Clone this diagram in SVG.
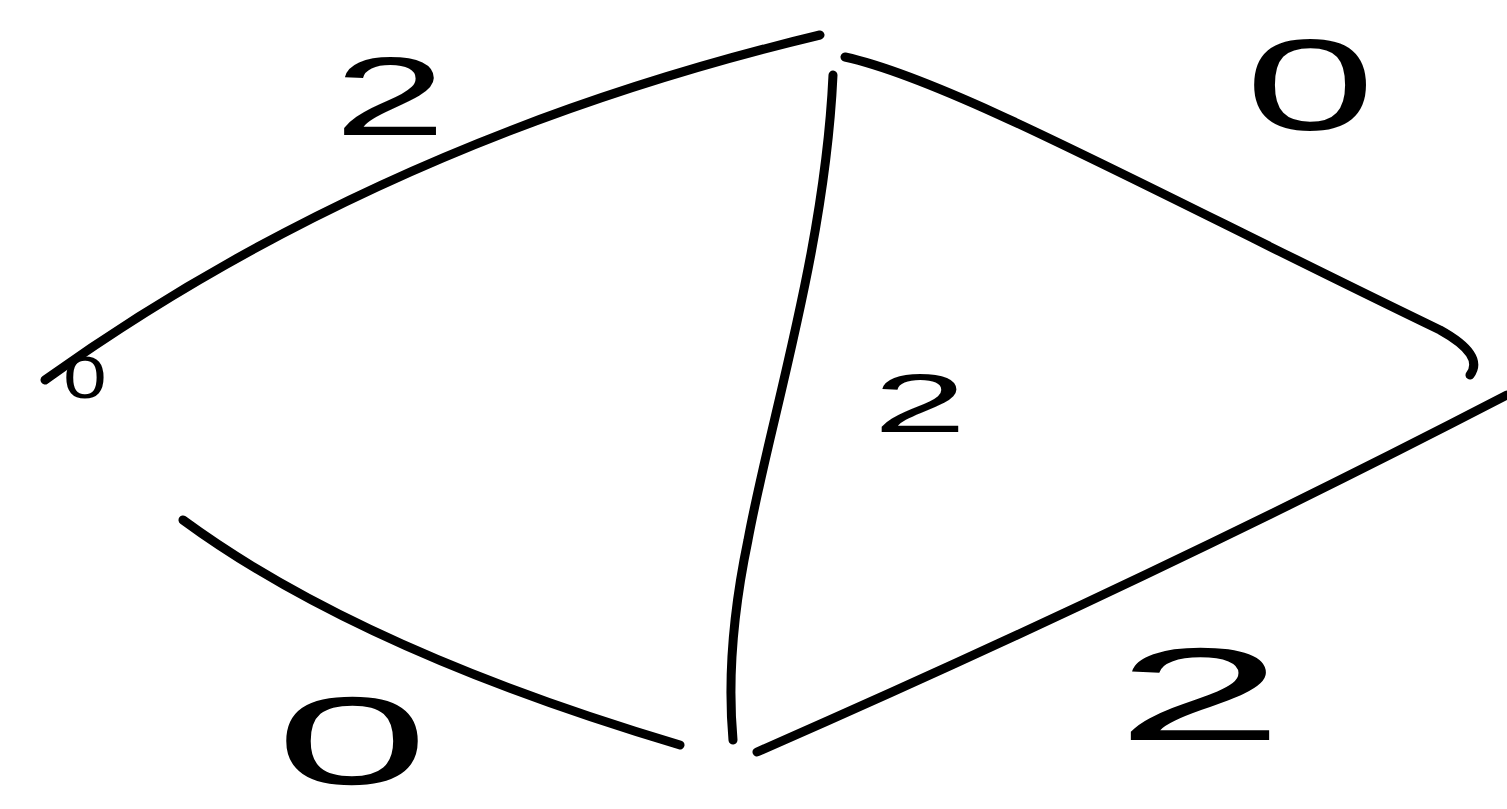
<svg xmlns="http://www.w3.org/2000/svg" width="1507" height="809" viewBox="0 0 1507 809">
<style>
.e{fill:none;stroke:#000;stroke-width:9;stroke-linecap:round;stroke-linejoin:round}
.t{font-family:"Liberation Sans",Arial,sans-serif;fill:#000;text-anchor:middle}
</style>
<rect width="1507" height="809" fill="#fff"/>
<g id="edges">
<path class="e" d="M45,380 Q380,140 820,35"/>
<path class="e" d="M845,57 C950,80 1150,190 1440,330 Q1485,355 1470,375"/>
<path class="e" d="M833,75 C825,250 770,420 748,540 Q725,650 733,740"/>
<path class="e" d="M757,752 Q1150,580 1507,395"/>
<path class="e" d="M183,520 Q360,650 680,745"/>
</g>
<g id="label-top-left"><text class="t" font-size="112" transform="translate(390,135) scale(1.8,1)">2</text></g>
<g id="label-top-right"><text class="t" font-size="130" transform="translate(1310,130) scale(1.8,1)">0</text></g>
<g id="label-middle"><text class="t" font-size="84" transform="translate(920,432) scale(2,1)">2</text></g>
<g id="label-bottom-right"><text class="t" font-size="132" transform="translate(1200,740) scale(2.3,1)">2</text></g>
<g id="label-bottom-left"><text class="t" font-size="125" transform="translate(352,784) scale(2.2,1)">0</text></g>
<g id="label-left"><text class="t" font-size="60" transform="translate(85,398) scale(1.3,1)">0</text></g>
</svg>
